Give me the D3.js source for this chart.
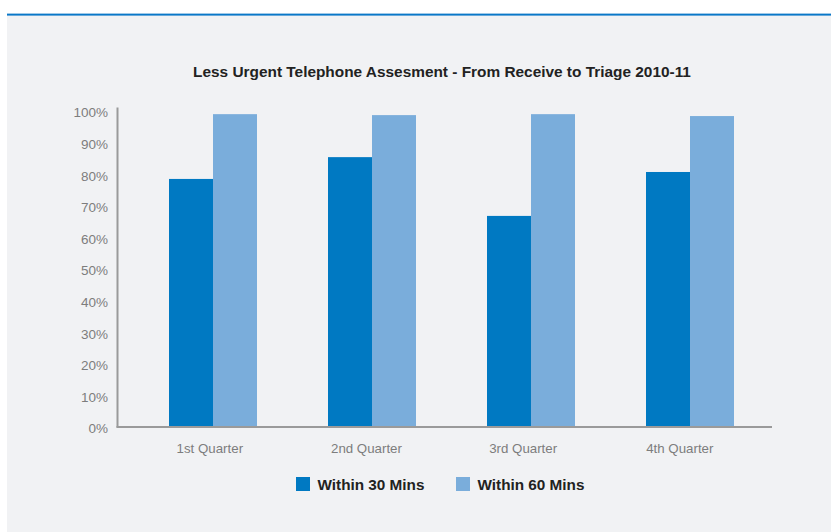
<!DOCTYPE html>
<html>
<head>
<meta charset="utf-8">
<script src="https://cdn.jsdelivr.net/npm/d3@7"></script>
<style>
  html, body { margin: 0; padding: 0; background: #ffffff; }
  svg { display: block; }
</style>
</head>
<body>
<svg id="chart" width="831" height="532"></svg>
<script>
const categories = ["1st Quarter", "2nd Quarter", "3rd Quarter", "4th Quarter"];
const seriesNames = ["Within 30 Mins", "Within 60 Mins"];
const within30 = [78.5, 85.4, 66.8, 80.7];
const within60 = [99.0, 98.7, 99.0, 98.4];
const yTicks = [0, 10, 20, 30, 40, 50, 60, 70, 80, 90, 100];
const colors = ["#0079c2", "#7aaddb"];
const title = "Less Urgent Telephone Assesment - From Receive to Triage 2010-11";

const svg = d3.select("#chart");
const font = "'Liberation Sans', Arial, Helvetica, sans-serif";

// panel background and top rule
svg.append("rect").attr("x", 7).attr("y", 15).attr("width", 824).attr("height", 517).attr("fill", "#f1f2f4");
svg.append("rect").attr("x", 7).attr("y", 13).attr("width", 824).attr("height", 1).attr("fill", "#9fc9e8");
svg.append("rect").attr("x", 7).attr("y", 14).attr("width", 824).attr("height", 1.6).attr("fill", "#0a78c8");

// scales
const y = d3.scaleLinear().domain([0, 100]).range([427, 111]);
const xBars = d3.scaleBand().domain(categories).range([133.5, 769.5]).paddingInner(0.4466).paddingOuter(0.2233);
const xSeries = d3.scaleBand().domain(seriesNames).range([0, xBars.bandwidth()]);
const xLabels = d3.scalePoint().domain(categories).range([209.3, 679.3]);

// title
svg.append("text")
  .attr("x", 442).attr("y", 77)
  .attr("text-anchor", "middle")
  .attr("font-family", font).attr("font-size", 15.4).attr("font-weight", "bold")
  .attr("fill", "#222")
  .text(title);

// y axis labels
const yAxis = d3.axisLeft(y).tickValues(yTicks).tickSize(0).tickPadding(0).tickFormat(d => d + "%");
const yg = svg.append("g").attr("transform", "translate(108,1.5)").call(yAxis);
yg.select(".domain").remove();
yg.selectAll("text").attr("font-family", font).attr("font-size", 13.5).attr("fill", "#7d7d7d");

// bars
const data = categories.map((c, i) => ({ cat: c, vals: [within30[i], within60[i]] }));
const groups = svg.append("g").selectAll("g").data(data).join("g")
  .attr("transform", d => `translate(${xBars(d.cat)},0)`);
groups.selectAll("rect")
  .data(d => d.vals.map((v, j) => ({ name: seriesNames[j], v, j })))
  .join("rect")
  .attr("x", d => xSeries(d.name))
  .attr("width", xSeries.bandwidth())
  .attr("y", d => y(d.v))
  .attr("height", d => y(0) - y(d.v))
  .attr("fill", d => colors[d.j]);

// axis lines
svg.append("line").attr("x1", 117.5).attr("x2", 117.5).attr("y1", 107.5).attr("y2", 427.5)
  .attr("stroke", "#9a9a9a").attr("stroke-width", 2);
svg.append("line").attr("x1", 116.5).attr("x2", 772).attr("y1", 427).attr("y2", 427)
  .attr("stroke", "#9a9a9a").attr("stroke-width", 2);

// category labels
const xAxis = d3.axisBottom(xLabels).tickSize(0).tickPadding(0);
const xg = svg.append("g").attr("transform", "translate(0,443.5)").call(xAxis);
xg.select(".domain").remove();
xg.selectAll("text").attr("font-family", font).attr("font-size", 13.3).attr("fill", "#7d7d7d");

// legend
const legendX = [296, 456];
const legend = svg.append("g").selectAll("g").data(seriesNames).join("g")
  .attr("transform", (d, i) => `translate(${legendX[i]},477)`);
legend.append("rect").attr("width", 14).attr("height", 14).attr("fill", (d, i) => colors[i]);
legend.append("text")
  .attr("x", 21.5).attr("y", 13)
  .attr("font-family", font).attr("font-size", 15.3).attr("font-weight", "bold")
  .attr("fill", "#222")
  .text(d => d);
</script>
</body>
</html>
